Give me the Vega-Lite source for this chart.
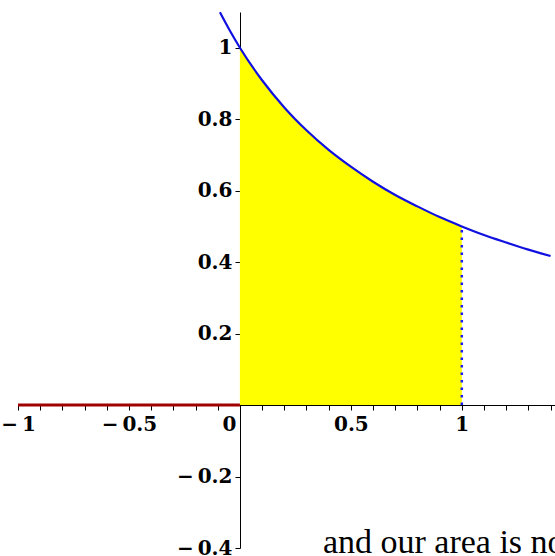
{
  "$schema": "https://vega.github.io/schema/vega-lite/v6.json",
  "width": 537,
  "height": 536,
  "autosize": {"type": "none"},
  "padding": {"left": 18, "top": 12, "right": 0, "bottom": 8},
  "background": "white",
  "config": {"view": {"stroke": null}, "axis": {"labelOverlap": false, "labelFlush": false, "labelBound": false}},
  "resolve": {"axis": {"x": "independent"}},
  "datasets": {
    "curve": [
      {"x": -0.09, "y": 1.099},
      {"x": -0.05, "y": 1.053},
      {"x": 0, "y": 1.0},
      {"x": 0.1, "y": 0.909},
      {"x": 0.2, "y": 0.833},
      {"x": 0.3, "y": 0.769},
      {"x": 0.4, "y": 0.714},
      {"x": 0.5, "y": 0.667},
      {"x": 0.6, "y": 0.625},
      {"x": 0.7, "y": 0.588},
      {"x": 0.8, "y": 0.556},
      {"x": 0.9, "y": 0.526},
      {"x": 1.0, "y": 0.5},
      {"x": 1.1, "y": 0.476},
      {"x": 1.2, "y": 0.455},
      {"x": 1.3, "y": 0.435},
      {"x": 1.4, "y": 0.417}
    ],
    "base": [{"x": -1, "x2": 0, "y": 0}],
    "edge": [{"x": 1, "y": 0, "y2": 0.5}],
    "note": [{"x": 0.374, "y": -0.414, "label": "and our area is no"}]
  },
  "layer": [
    {
      "data": {"name": "curve"},
      "transform": [{"filter": "datum.x >= 0 && datum.x <= 1"}],
      "mark": {"type": "area", "color": "#ffff00", "interpolate": "monotone"},
      "encoding": {
        "x": {
          "field": "x", "type": "quantitative",
          "scale": {"domain": [-1, 1.42], "nice": false, "zero": false},
          "axis": {
            "title": null, "grid": false, "offset": -143, "orient": "bottom",
            "values": [-1, -0.5, 0, 0.5, 1],
            "labelExpr": "(datum.value < 0 ? '\u2212\u2009' : '') + format(abs(datum.value), '')",
            "labelAlign": {"condition": {"test": "datum.value == 0", "value": "right"}, "value": "center"},
            "labelOffset": {"condition": {"test": "datum.value == 0", "value": -4}, "value": 0},
            "labelFont": "DejaVu Serif", "labelFontWeight": "bold", "labelFontSize": 20,
            "labelColor": "black", "labelPadding": 4, "labelFlush": false, "labelOverlap": false,
            "domainColor": "black", "tickColor": "black", "tickSize": 5
          }
        },
        "y": {
          "field": "y", "type": "quantitative",
          "scale": {"domain": [-0.4, 1.1], "nice": false, "zero": false},
          "axis": {
            "title": null, "grid": false, "offset": -222,
            "values": [-0.4,-0.3,-0.2,-0.1,0,0.1,0.2,0.3,0.4,0.5,0.6,0.7,0.8,0.9,1,1.1],
            "labelExpr": "round(datum.value*10) % 2 == 0 && datum.value != 0 ? (datum.value < 0 ? '\u2212\u2009' : '') + format(abs(datum.value), '') : ''",
            "labelFont": "DejaVu Serif", "labelFontWeight": "bold", "labelFontSize": 20,
            "labelColor": "black", "labelPadding": 3, "labelFlush": false, "labelOverlap": false,
            "domainColor": "black", "tickColor": "black", "tickSize": 5
          }
        },
        "y2": {"datum": 0}
      }
    },
    {
      "data": {"name": "base"},
      "mark": {"type": "rule", "color": "#a00000", "strokeWidth": 3},
      "encoding": {
        "x": {
          "field": "x", "type": "quantitative",
          "axis": {
            "title": null, "grid": false, "offset": -143, "orient": "bottom",
            "values": [-0.9,-0.8,-0.7,-0.6,-0.4,-0.3,-0.2,-0.1,0.1,0.2,0.3,0.4,0.6,0.7,0.8,0.9,1.1,1.2,1.3,1.4],
            "labels": false, "domain": false,
            "tickColor": "black", "tickSize": 5
          }
        },
        "x2": {"field": "x2"},
        "y": {"field": "y", "type": "quantitative"}
      }
    },
    {
      "data": {"name": "edge"},
      "mark": {"type": "rule", "color": "#1a1aff", "strokeWidth": 2.5, "strokeDash": [2.5, 5]},
      "encoding": {
        "x": {"field": "x", "type": "quantitative", "axis": null},
        "y": {"field": "y", "type": "quantitative"},
        "y2": {"field": "y2"}
      }
    },
    {
      "data": {"name": "curve"},
      "mark": {"type": "line", "color": "#1010e0", "strokeWidth": 2.2, "interpolate": "monotone"},
      "encoding": {
        "x": {"field": "x", "type": "quantitative", "axis": null},
        "y": {"field": "y", "type": "quantitative"}
      }
    },
    {
      "data": {"name": "note"},
      "mark": {"type": "text", "align": "left", "baseline": "alphabetic", "font": "Liberation Serif", "fontSize": 34, "color": "black"},
      "encoding": {
        "x": {"field": "x", "type": "quantitative", "axis": null},
        "y": {"field": "y", "type": "quantitative"},
        "text": {"field": "label"}
      }
    }
  ]
}
